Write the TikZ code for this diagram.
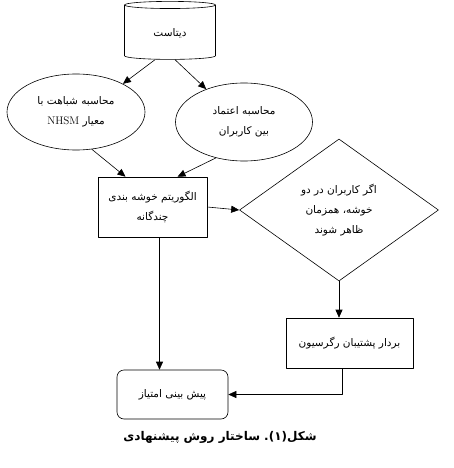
\documentclass[tikz,border=0pt]{standalone}
\usepackage{fontspec}
\newfontfamily\farsi[Script=Arabic]{DejaVu Sans}
\TeXXeTstate=1
\usetikzlibrary{shapes.geometric,arrows.meta}
\newcommand{\fatxt}[1]{\beginR #1\endR}
\newcommand{\faword}[1]{\hbox{\beginR #1\endR}}
\begin{document}
\begin{tikzpicture}[x=1pt,y=-1pt,>={Triangle[length=8pt,width=7pt]},line join=round,line width=0.6pt,
	font=\farsi\fontsize{10.5}{20}\selectfont,
	box/.style={draw,rectangle,align=center,inner sep=2pt},
	oval/.style={draw,ellipse,align=center,inner sep=0pt},
	decision/.style={draw,diamond,align=center,inner sep=0pt}]
	\useasboundingbox (0,0) rectangle (453,468);
	% nodes
	\node[draw,cylinder,shape border rotate=90,aspect=0.18,minimum width=91pt,minimum height=58pt] (db) at (170,33) {\fatxt{دیتاست}};
	\node[oval,minimum width=138pt,minimum height=76pt] (sim) at (76,112) {\fatxt{محاسبه شباهت با}\\\fatxt{معیار \beginL{\rmfamily\fontsize{11}{12}\selectfont NHSM}\endL}};
	\node[oval,minimum width=137pt,minimum height=78pt] (trust) at (244,122) {\fatxt{محاسبه اعتماد}\\\fatxt{بین کاربران}};
	\node[box,minimum width=109pt,minimum height=60pt] (clust) at (152.5,207) {\fatxt{الگوریتم خوشه بندی}\\\fatxt{چندگانه}};
	\node[decision,minimum width=199pt,minimum height=142pt] (dia) at (339,210) {\fatxt{اگر کاربران در دو}\\\fatxt{خوشه، همزمان}\\\fatxt{ظاهر شوند}};
	\node[box,minimum width=127pt,minimum height=50pt] (svr) at (349.5,343) {\fatxt{بردار پشتیبان رگرسیون}};
	\node[box,rounded corners=7pt,minimum width=111pt,minimum height=49pt] (score) at (172.5,394.5) {\fatxt{پیش بینی امتیاز}};
	\node[font=\farsi\bfseries\fontsize{12}{14}\selectfont] (cap) at (220,437) {\faword{پیشنهادی}\ \faword{روش}\ \faword{ساختار}\ \hbox{(۱).}\faword{شکل}};
	% connectors
	\draw[->] ([xshift=-15pt]db.south) -- (sim.31);
	\draw[->] ([xshift=5pt]db.south) -- (trust.139);
	\draw[->] (sim.-67) -- ([xshift=-27pt]clust.north);
	\draw[->] (trust.-128) -- ([xshift=25pt]clust.north);
	\draw[->] (clust.east) -- (dia.west);
	\draw[->] (dia.south) -- (dia.south |- svr.north);
	\draw[->] ([xshift=-7pt]svr.south) |- (score.east);
	\draw[->] ([xshift=7pt]clust.south) -- ([xshift=-13pt]score.north);
\end{tikzpicture}
\end{document}
